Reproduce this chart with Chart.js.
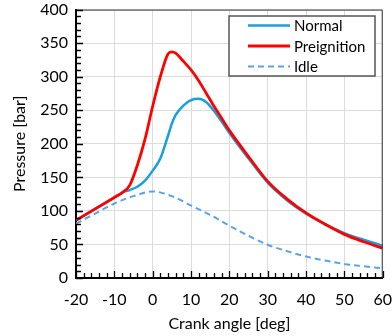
<!DOCTYPE html>
<html>
<head>
<meta charset="utf-8">
<script src="https://cdn.jsdelivr.net/npm/chart.js@4/dist/chart.umd.min.js"></script>
<style>
  html, body { margin: 0; padding: 0; background: #fff; }
  #wrap { width: 392px; height: 336px; }
</style>
</head>
<body>
<div id="wrap"><canvas id="myChart" width="392" height="336"></canvas></div>
<script>
// crank angle [deg] for the two fired cycles
var angles = [-20, -15, -10, -8, -6, -4, -2, 0, 2, 4, 5, 6, 8, 10, 12, 14, 16, 18, 20, 25, 30, 35, 40, 45, 50, 55, 60];
var normal = [86, 103, 120, 127, 131, 136, 145, 160, 178, 212, 230, 243, 257, 265, 267, 262, 249, 233, 216, 178, 142, 116, 96, 80, 67, 57, 48];
var preignition = [86, 103, 120, 127, 138, 168, 207, 256, 300, 334, 337, 335, 323, 310, 294, 275, 256, 238, 220, 181, 144, 118, 97, 80, 65, 54, 44.5];

// idle (motored) curve
var idleAngles = [-20, -15, -10, -5, 0, 5, 10, 15, 20, 25, 30, 35, 40, 45, 50, 55, 60];
var idle = [81, 96, 111, 122, 129, 122, 108, 94, 78, 63, 49.5, 40, 32, 26, 21, 17.5, 14.5];

var xTicks = [-20, -10, 0, 10, 20, 30, 40, 50, 60];
var yTicks = [0, 50, 100, 150, 200, 250, 300, 350, 400];

var FONT = 'Lato, "DejaVu Sans", sans-serif';

var toPoints = function (xs, ys) {
    return xs.map(function (x, i) { return {x: x, y: ys[i]}; });
};

// minor ticks drawn inside the plot + frame on top/right
var frameTicks = {
    id: 'frameTicks',
    afterDraw: function (chart) {
        var ctx = chart.ctx, a = chart.chartArea;
        var xs = chart.scales.x, ys = chart.scales.y;
        ctx.save();
        ctx.strokeStyle = '#333';
        ctx.lineWidth = 1;
        ctx.beginPath();
        ctx.moveTo(a.left, a.top + 0.5);
        ctx.lineTo(a.right - 0.5, a.top + 0.5);
        ctx.lineTo(a.right - 0.5, a.bottom);
        ctx.stroke();

        ctx.strokeStyle = '#000';
        ctx.lineWidth = 1.3;
        ctx.beginPath();
        for (var v = -20; v <= 60; v += 2) {
            var px = Math.round(xs.getPixelForValue(v)) + 0.5;
            var len = (v % 10 === 0) ? 7 : 5;
            ctx.moveTo(px, a.bottom);
            ctx.lineTo(px, a.bottom - len);
        }
        for (var w = 0; w <= 400; w += 10) {
            var py = Math.round(ys.getPixelForValue(w)) + 0.5;
            var l2 = (w % 50 === 0) ? 7 : 5;
            ctx.moveTo(a.left, py);
            ctx.lineTo(a.left + l2, py);
        }
        ctx.stroke();
        ctx.restore();
    }
};

// boxed legend inside the plot, upper right
var boxLegend = {
    id: 'boxLegend',
    afterDraw: function (chart) {
        var ctx = chart.ctx;
        var left = 229, top = 16, width = 146, height = 60;
        ctx.save();
        ctx.fillStyle = '#fff';
        ctx.fillRect(left, top, width, height);
        ctx.strokeStyle = '#555';
        ctx.lineWidth = 1.5;
        ctx.strokeRect(left, top, width, height);
        ctx.font = '15px ' + FONT;
        ctx.textBaseline = 'middle';
        chart.data.datasets.forEach(function (ds, i) {
            var y = 25.5 + i * 20.5;
            ctx.beginPath();
            ctx.strokeStyle = ds.borderColor;
            ctx.lineWidth = ds.borderWidth;
            ctx.setLineDash(ds.borderDash || []);
            ctx.moveTo(248, y);
            ctx.lineTo(290, y);
            ctx.stroke();
            ctx.setLineDash([]);
            ctx.fillStyle = '#000';
            ctx.fillText(ds.label, 294, y + 1);
        });
        ctx.restore();
    }
};

var data = {
    datasets: [
        {
            label: 'Normal',
            data: toPoints(angles, normal),
            borderColor: '#1a9fdb',
            borderWidth: 2.5,
            order: 1
        },
        {
            label: 'Preignition',
            data: toPoints(angles, preignition),
            borderColor: '#ff0000',
            borderWidth: 2.8,
            order: 0
        },
        {
            label: 'Idle',
            data: toPoints(idleAngles, idle),
            borderColor: '#5aa3e6',
            borderWidth: 2,
            borderDash: [6, 4],
            order: 2
        }
    ]
};

var options = {
    responsive: false,
    animation: false,
    maintainAspectRatio: false,
    layout: { padding: { left: 10, right: 0, top: 3, bottom: 0 } },
    elements: {
        point: { radius: 0 },
        line: { cubicInterpolationMode: 'monotone', fill: false }
    },
    plugins: {
        legend: { display: false },
        tooltip: { enabled: false }
    },
    scales: {
        x: {
            type: 'linear',
            min: -20,
            max: 60,
            afterBuildTicks: function (axis) {
                axis.ticks = xTicks.map(function (v) { return {value: v}; });
            },
            afterFit: function (axis) { axis.height = 58; },
            grid: { color: '#dcdcdc', lineWidth: 1, drawTicks: true, tickLength: 12, tickColor: 'rgba(0,0,0,0)' },
            border: { color: '#000', width: 2 },
            ticks: { color: '#000', font: { family: FONT, size: 16 }, padding: 0, maxRotation: 0 },
            title: {
                display: true,
                text: 'Crank angle [deg]',
                color: '#000',
                font: { family: FONT, size: 16 },
                padding: { top: 2, bottom: 3 }
            }
        },
        y: {
            min: 0,
            max: 400,
            afterBuildTicks: function (axis) {
                axis.ticks = yTicks.map(function (v) { return {value: v}; });
            },
            afterFit: function (axis) { axis.width = 66; },
            grid: { color: '#dcdcdc', lineWidth: 1, drawTicks: true, tickLength: 8, tickColor: 'rgba(0,0,0,0)' },
            border: { color: '#000', width: 2 },
            ticks: { color: '#000', font: { family: FONT, size: 16 }, padding: 0 },
            title: {
                display: true,
                text: 'Pressure [bar]',
                color: '#000',
                font: { family: FONT, size: 16 },
                padding: { top: 0, bottom: 2 }
            }
        }
    }
};

var myChart = new Chart(document.getElementById('myChart'), {
    type: 'line',
    data: data,
    options: options,
    plugins: [frameTicks, boxLegend]
});
</script>
</body>
</html>
